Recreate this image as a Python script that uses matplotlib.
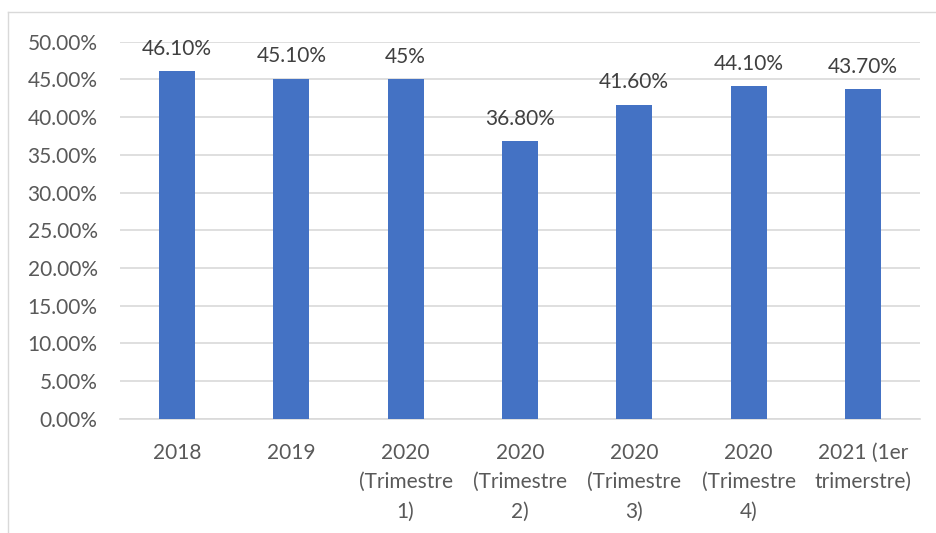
import matplotlib.pyplot as plt
from matplotlib.lines import Line2D

categories = ["2018", "2019", "2020\n(Trimestre\n1)", "2020\n(Trimestre\n2)",
              "2020\n(Trimestre\n3)", "2020\n(Trimestre\n4)", "2021 (1er\ntrimerstre)"]
values = [46.1, 45.1, 45.0, 36.8, 41.6, 44.1, 43.7]
value_labels = ["46.10%", "45.10%", "45%", "36.80%", "41.60%", "44.10%", "43.70%"]
y_ticks = [0, 5, 10, 15, 20, 25, 30, 35, 40, 45, 50]

plt.rcParams["font.family"] = ["Lato", "DejaVu Sans"]

fig = plt.figure(figsize=(9.36, 5.33), dpi=100)
ax = fig.add_axes([0.128, 0.214, 0.855, 0.708])

x = range(len(categories))
ax.bar(x, values, width=0.315, color="#4472C4", zorder=3)

for xi, v, lab in zip(x, values, value_labels):
    ax.annotate(lab, (xi, v), xytext=(0, 9), textcoords="offset points",
                ha="center", va="bottom", fontsize=15, color="#404040")

ax.set_xlim(-0.5, len(categories) - 0.5)
ax.set_ylim(0, 50)
ax.set_yticks(y_ticks)
ax.set_yticklabels([f"{t:.2f}%" for t in y_ticks])
ax.set_xticks(list(x))
ax.set_xticklabels(categories, linespacing=1.6)
ax.tick_params(axis="both", length=0, labelsize=15, labelcolor="#595959")
ax.tick_params(axis="x", pad=17)
ax.tick_params(axis="y", pad=16)
ax.grid(axis="y", color="#D9D9D9", linewidth=1.2, zorder=0)
for s in ["top", "right", "left"]:
    ax.spines[s].set_visible(False)
ax.spines["bottom"].set_color("#D9D9D9")
ax.spines["bottom"].set_linewidth(1.2)

# light chart border (Excel chart area)
fig.add_artist(Line2D([8 / 936, 1], [1 - 12 / 533, 1 - 12 / 533],
                      transform=fig.transFigure, color="#D9D9D9", lw=1))
fig.add_artist(Line2D([8 / 936, 8 / 936], [0, 1 - 12 / 533],
                      transform=fig.transFigure, color="#D9D9D9", lw=1))

fig.savefig("out.png", dpi=100)
